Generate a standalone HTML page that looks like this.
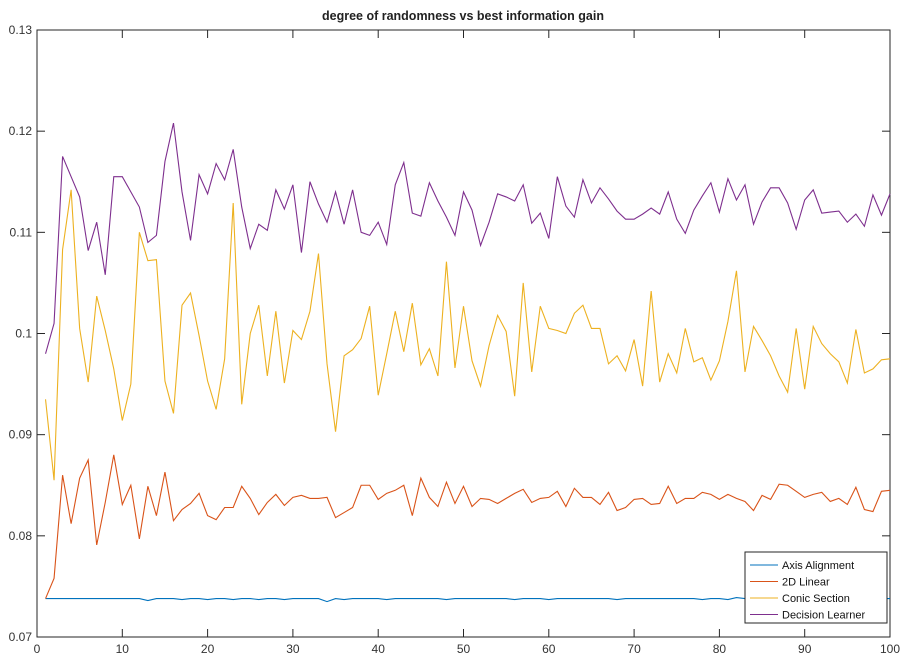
<!DOCTYPE html>
<html><head><meta charset="utf-8"><style>
body{margin:0;background:#fff;font-family:"Liberation Sans",sans-serif}
</style></head><body>
<svg id="chart" width="916" height="665" xmlns="http://www.w3.org/2000/svg">
<rect x="0" y="0" width="916" height="665" fill="#fff"/>
<text x="463" y="20" text-anchor="middle" font-size="12.5" font-weight="bold" fill="#222">degree of randomness vs best information gain</text>
<g id="grid"></g>
<g id="series"></g>
<g id="legend"></g>
</svg>
<script>
const xTicks=[0,10,20,30,40,50,60,70,80,90,100];
const yTicks=[0.07,0.08,0.09,0.1,0.11,0.12,0.13];
const yTickLabels=["0.07","0.08","0.09","0.1","0.11","0.12","0.13"];
const seriesNames=["Axis Alignment","2D Linear","Conic Section","Decision Learner"];
const axisAlignment=[0.0738,0.0738,0.0738,0.0738,0.0738,0.0738,0.0738,0.0738,0.0738,0.0738,0.0738,0.0738,0.0736,0.0738,0.0738,0.0738,0.0737,0.0738,0.0738,0.0737,0.0738,0.0738,0.0737,0.0738,0.0738,0.0737,0.0738,0.0738,0.0737,0.0738,0.0738,0.0738,0.0738,0.0735,0.0738,0.0737,0.0738,0.0738,0.0738,0.0738,0.0737,0.0738,0.0738,0.0738,0.0738,0.0738,0.0738,0.0737,0.0738,0.0738,0.0738,0.0738,0.0738,0.0738,0.0738,0.0737,0.0738,0.0738,0.0738,0.0737,0.0738,0.0738,0.0738,0.0738,0.0738,0.0738,0.0738,0.0737,0.0738,0.0738,0.0738,0.0738,0.0738,0.0738,0.0738,0.0738,0.0738,0.0737,0.0738,0.0738,0.0737,0.0739,0.0738,0.0738,0.0738,0.0738,0.0738,0.0738,0.0738,0.0738,0.0738,0.0738,0.0738,0.0738,0.0738,0.0738,0.0738,0.0738,0.0738,0.0738];
const linear2D=[0.0738,0.0758,0.0860,0.0812,0.0857,0.0875,0.0791,0.0833,0.0880,0.0831,0.0850,0.0797,0.0849,0.0820,0.0863,0.0815,0.0826,0.0832,0.0842,0.0820,0.0816,0.0828,0.0828,0.0849,0.0837,0.0821,0.0833,0.0841,0.0830,0.0838,0.0840,0.0837,0.0837,0.0838,0.0818,0.0823,0.0828,0.0850,0.0850,0.0836,0.0842,0.0845,0.0850,0.0820,0.0857,0.0838,0.0829,0.0853,0.0832,0.0849,0.0829,0.0837,0.0836,0.0832,0.0837,0.0842,0.0846,0.0833,0.0837,0.0838,0.0844,0.0829,0.0847,0.0838,0.0838,0.0831,0.0843,0.0825,0.0828,0.0836,0.0837,0.0831,0.0832,0.0849,0.0832,0.0837,0.0837,0.0843,0.0841,0.0836,0.0841,0.0837,0.0834,0.0825,0.0840,0.0836,0.0851,0.0850,0.0844,0.0838,0.0841,0.0843,0.0834,0.0837,0.0831,0.0848,0.0826,0.0824,0.0844,0.0845];
const conicSection=[0.0935,0.0855,0.1083,0.1142,0.1005,0.0952,0.1037,0.1003,0.0965,0.0914,0.0950,0.1100,0.1072,0.1073,0.0953,0.0921,0.1028,0.1040,0.0998,0.0953,0.0925,0.0975,0.1129,0.0930,0.1000,0.1028,0.0958,0.1022,0.0951,0.1003,0.0994,0.1022,0.1079,0.0970,0.0903,0.0978,0.0984,0.0995,0.1027,0.0939,0.0980,0.1022,0.0982,0.1030,0.0969,0.0985,0.0958,0.1071,0.0966,0.1027,0.0973,0.0948,0.0988,0.1018,0.1002,0.0938,0.1050,0.0962,0.1027,0.1005,0.1003,0.1000,0.1020,0.1028,0.1005,0.1005,0.0970,0.0978,0.0963,0.0994,0.0948,0.1042,0.0952,0.0980,0.0961,0.1005,0.0972,0.0976,0.0954,0.0973,0.1012,0.1062,0.0962,0.1007,0.0993,0.0978,0.0958,0.0942,0.1005,0.0945,0.1007,0.0990,0.0980,0.0972,0.0951,0.1004,0.0961,0.0965,0.0974,0.0975];
const decisionLearner=[0.0980,0.1010,0.1175,0.1155,0.1135,0.1082,0.1110,0.1058,0.1155,0.1155,0.1140,0.1125,0.1090,0.1097,0.1170,0.1208,0.1140,0.1092,0.1157,0.1138,0.1168,0.1152,0.1182,0.1125,0.1084,0.1108,0.1102,0.1142,0.1123,0.1147,0.1080,0.1150,0.1128,0.1110,0.1140,0.1108,0.1142,0.1100,0.1097,0.1110,0.1088,0.1147,0.1169,0.1119,0.1116,0.1149,0.1131,0.1115,0.1097,0.1140,0.1122,0.1087,0.1110,0.1138,0.1135,0.1131,0.1147,0.1109,0.1119,0.1094,0.1155,0.1126,0.1115,0.1152,0.1129,0.1144,0.1133,0.1121,0.1113,0.1113,0.1118,0.1124,0.1118,0.1140,0.1113,0.1099,0.1122,0.1136,0.1149,0.1120,0.1153,0.1132,0.1147,0.1108,0.1130,0.1144,0.1144,0.1129,0.1103,0.1132,0.1142,0.1119,0.1120,0.1121,0.1110,0.1118,0.1106,0.1137,0.1117,0.1138];
const colors=["#0072BD","#D95319","#EDB120","#7E2F8E"];
const L=37,R=890,T=30,B=637;
const xs=v=>L+(v-0)/(100-0)*(R-L);
const ys=v=>B-(v-0.07)/(0.13-0.07)*(B-T);
const NS="http://www.w3.org/2000/svg";
const svg=document.getElementById('chart');
const grid=document.getElementById('grid');
function mk(tag,attrs,parent){const e=document.createElementNS(NS,tag);for(const k in attrs)e.setAttribute(k,attrs[k]);parent.appendChild(e);return e;}
const box=mk('rect',{x:L,y:T,width:R-L,height:B-T,fill:'none',stroke:'#262626','stroke-width':1},grid);


xTicks.forEach(t=>{
  const x=xs(t);
  mk('line',{x1:x,y1:B,x2:x,y2:B-8,stroke:'#262626'},grid);
  mk('line',{x1:x,y1:T,x2:x,y2:T+8,stroke:'#262626'},grid);
  const tx=mk('text',{x:x,y:B+16,'text-anchor':'middle','font-size':12,fill:'#333'},grid);
  tx.textContent=t;
  
  
});
yTicks.forEach((t,i)=>{
  const y=ys(t);
  mk('line',{x1:L,y1:y,x2:L+8,y2:y,stroke:'#262626'},grid);
  mk('line',{x1:R,y1:y,x2:R-8,y2:y,stroke:'#262626'},grid);
  const tx=mk('text',{x:L-5,y:y+4,'text-anchor':'end','font-size':12,fill:'#333'},grid);
  tx.textContent=yTickLabels[i];
  
  
});
const sg=document.getElementById('series');
const allSeries=[axisAlignment,linear2D,conicSection,decisionLearner];
const seriesIds=['axis-alignment-line','2d-linear-line','conic-section-line','decision-learner-line'];
allSeries.forEach((arr,si)=>{
  const pts=arr.map((v,i)=>xs(i+1).toFixed(2)+','+ys(v).toFixed(2)).join(' ');
  const pl=mk('polyline',{points:pts,fill:'none',stroke:colors[si],'stroke-width':1.1},sg);
  
  
});
const lg=document.getElementById('legend');


mk('rect',{x:745,y:552,width:142,height:71,fill:'#fff',stroke:'#262626'},lg);
seriesNames.forEach((n,i)=>{
  const y=565+i*16.5;
  mk('line',{x1:750,y1:y,x2:778,y2:y,stroke:colors[i],'stroke-width':1.1},lg);
  const tx=mk('text',{x:782,y:y+4,'font-size':11,fill:'#111'},lg);
  tx.textContent=n;
  
  
});
</script>
</body></html>
